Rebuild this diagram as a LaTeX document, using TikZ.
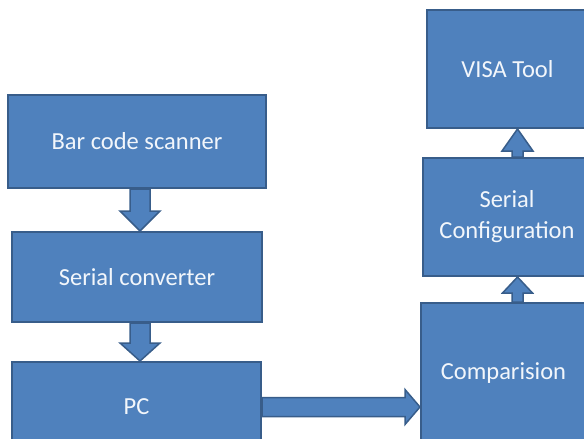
\documentclass[tikz,border=0pt]{standalone}
\usepackage{fontspec}
\setmainfont{Carlito}
\usetikzlibrary{calc}
\definecolor{boxfill}{HTML}{4F81BD}
\definecolor{boxline}{HTML}{385D8A}
\definecolor{boxtext}{HTML}{F2F6FB}
\begin{document}
\begin{tikzpicture}[x=1pt,y=-1pt,
  blockbox/.style={draw=boxline, line width=2pt, fill=boxfill, text=boxtext,
    font=\fontsize{24.5}{31}\selectfont, align=center, inner sep=0pt},
  blk/.style={draw=boxline, line width=1.5pt, fill=boxfill, line join=miter}]
\useasboundingbox (0,0) rectangle (584,439);
% boxes
\node[blockbox, minimum width=258pt, minimum height=93pt] (bcs) at (137,141.5) {Bar code scanner};
\node[blockbox, minimum width=250pt, minimum height=90pt] (sc) at (137,277) {Serial converter};
\node[blockbox, minimum width=249pt, minimum height=90pt] (pc) at (136.5,407) {PC};
\node[blockbox, minimum width=161pt, minimum height=118pt] (visa) at (507.5,69) {VISA Tool};
\node[blockbox, minimum width=168pt, minimum height=118pt] (scfg) at (507,217) {Serial\\Configuration};
\node[blockbox, minimum width=165pt, minimum height=140pt] (cmp) at (503.5,373) {Comparision};
% arrow 1: bar code scanner -> serial converter
\coordinate (a1s) at ($(bcs.south)+(3,0)$);
\coordinate (a1e) at (a1s |- sc.north);
\path[blk] ($(a1s)+(-10,0)$) -- ($(a1e)+(-10,-20)$) -- ($(a1e)+(-20,-20)$) -- (a1e)
  -- ($(a1e)+(20,-20)$) -- ($(a1e)+(10,-20)$) -- ($(a1s)+(10,0)$) -- cycle;
% arrow 2: serial converter -> PC
\coordinate (a2s) at ($(sc.south)+(3,0)$);
\coordinate (a2e) at (a2s |- pc.north);
\path[blk] ($(a2s)+(-10,0)$) -- ($(a2e)+(-10,-18)$) -- ($(a2e)+(-20,-18)$) -- (a2e)
  -- ($(a2e)+(20,-18)$) -- ($(a2e)+(10,-18)$) -- ($(a2s)+(10,0)$) -- cycle;
% arrow 3: PC -> Comparision
\coordinate (a3s) at (pc.east);
\coordinate (a3e) at (a3s -| cmp.west);
\path[blk] ($(a3s)+(0,-9.5)$) -- ($(a3e)+(-15,-9.5)$) -- ($(a3e)+(-15,-17.5)$) -- (a3e)
  -- ($(a3e)+(-15,17.5)$) -- ($(a3e)+(-15,9.5)$) -- ($(a3s)+(0,9.5)$) -- cycle;
% arrow 4: Comparision -> Serial Configuration
\coordinate (a4s) at ($(cmp.north)+(14,0)$);
\coordinate (a4e) at (a4s |- scfg.south);
\path[blk] ($(a4s)+(-5.5,0)$) -- ($(a4e)+(-5.5,16)$) -- ($(a4e)+(-15,16)$) -- (a4e)
  -- ($(a4e)+(15,16)$) -- ($(a4e)+(5.5,16)$) -- ($(a4s)+(5.5,0)$) -- cycle;
% arrow 5: Serial Configuration -> VISA Tool
\coordinate (a5s) at ($(scfg.north)+(10.5,0)$);
\coordinate (a5e) at (a5s |- visa.south);
\path[blk] ($(a5s)+(-5.5,0)$) -- ($(a5e)+(-5.5,22)$) -- ($(a5e)+(-15.5,22)$) -- (a5e)
  -- ($(a5e)+(15.5,22)$) -- ($(a5e)+(5.5,22)$) -- ($(a5s)+(5.5,0)$) -- cycle;
\end{tikzpicture}
\end{document}
